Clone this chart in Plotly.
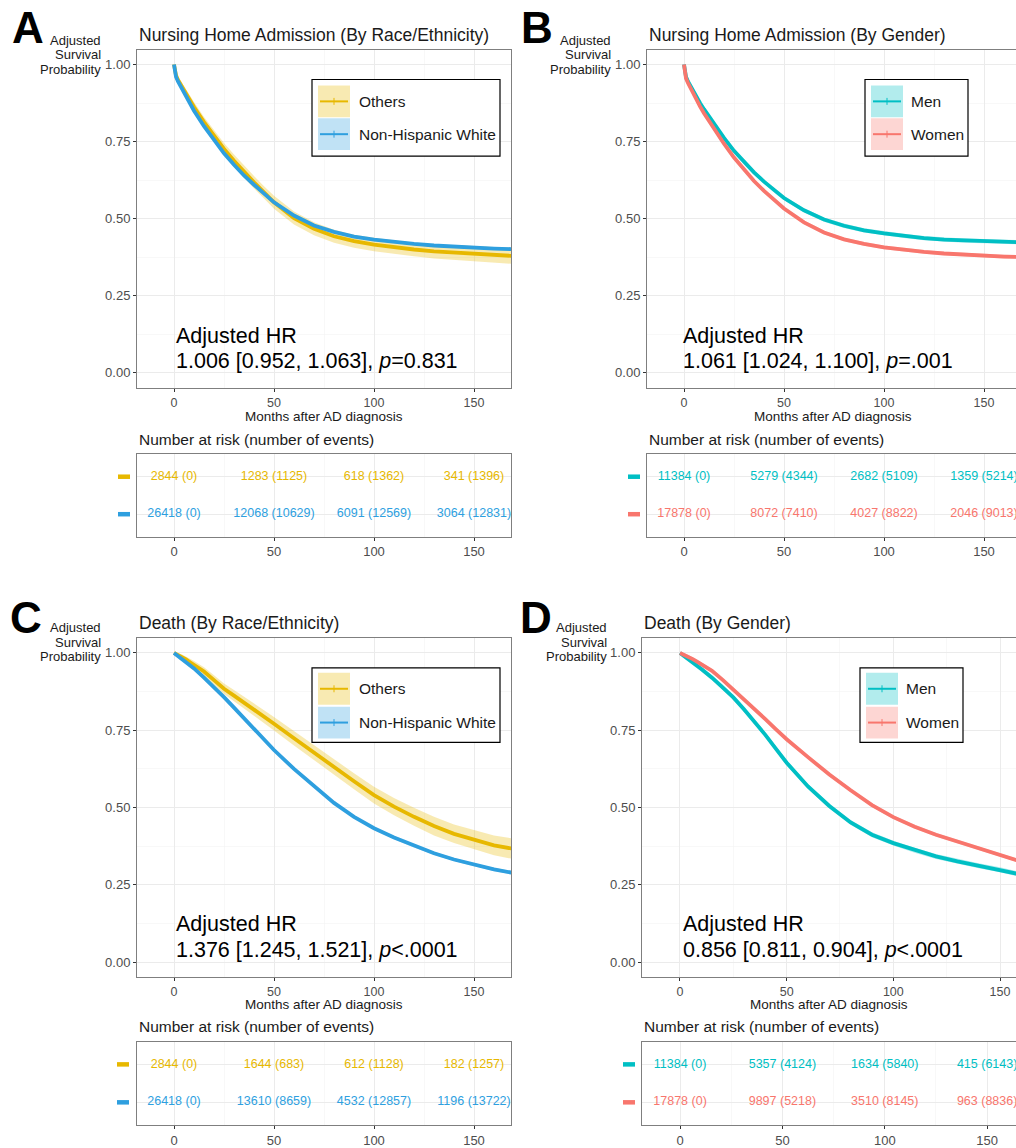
import plotly.graph_objects as go

W, H = 1016, 1148
FONT = "Liberation Sans, Arial, Helvetica, sans-serif"

# ---------------- data ----------------
months = [0, 1, 2, 4, 6, 8, 10, 15, 20, 25, 30, 35, 40, 45, 50, 60, 70, 80, 90,
          100, 110, 120, 130, 140, 150, 160, 170]

# A: Nursing home admission by race/ethnicity
a_others = [1.0, 0.965, 0.95, 0.928, 0.905, 0.882, 0.862, 0.813, 0.768, 0.726, 0.688, 0.652,
            0.618, 0.585, 0.553, 0.502, 0.467, 0.443, 0.427, 0.416, 0.407, 0.4, 0.394, 0.39,
            0.387, 0.383, 0.379]
a_others_hw = [0, 0.01, 0.012, 0.013, 0.014, 0.015, 0.016, 0.017, 0.018, 0.019, 0.02, 0.02,
               0.02, 0.02, 0.021, 0.021, 0.021, 0.021, 0.021, 0.022, 0.022, 0.022, 0.023,
               0.023, 0.024, 0.025, 0.026]
a_nhw = [1.0, 0.96, 0.945, 0.92, 0.895, 0.87, 0.85, 0.80, 0.755, 0.712, 0.675, 0.64, 0.61,
         0.58, 0.553, 0.51, 0.478, 0.457, 0.442, 0.432, 0.424, 0.418, 0.413, 0.409, 0.406,
         0.403, 0.401]
a_nhw_hw = [0] + [0.004] * 26

# B: Nursing home admission by gender
b_men = [1.0, 0.96, 0.945, 0.92, 0.897, 0.875, 0.855, 0.807, 0.762, 0.72, 0.683, 0.65, 0.62,
         0.592, 0.567, 0.527, 0.497, 0.477, 0.462, 0.452, 0.444, 0.437, 0.432, 0.429, 0.427,
         0.425, 0.423]
b_men_hw = [0] + [0.007] * 26
b_women = [1.0, 0.955, 0.94, 0.913, 0.888, 0.864, 0.842, 0.79, 0.743, 0.698, 0.658, 0.622,
           0.59, 0.56, 0.533, 0.488, 0.455, 0.433, 0.418, 0.407, 0.399, 0.392, 0.387, 0.383,
           0.38, 0.377, 0.375]
b_women_hw = [0] + [0.006] * 26

# C: Death by race/ethnicity
c_others = [1.0, 0.997, 0.994, 0.987, 0.979, 0.97, 0.962, 0.94, 0.912, 0.884, 0.862, 0.84,
            0.817, 0.794, 0.771, 0.724, 0.677, 0.63, 0.585, 0.54, 0.503, 0.47, 0.44, 0.415,
            0.396, 0.378, 0.366]
c_others_hw = [0, 0.004, 0.006, 0.008, 0.01, 0.011, 0.012, 0.014, 0.016, 0.017, 0.018, 0.019,
               0.02, 0.021, 0.022, 0.023, 0.024, 0.025, 0.026, 0.027, 0.028, 0.029, 0.03,
               0.03, 0.031, 0.032, 0.033]
c_nhw = [1.0, 0.995, 0.99, 0.98, 0.97, 0.96, 0.95, 0.92, 0.89, 0.857, 0.823, 0.789, 0.754,
         0.72, 0.686, 0.625, 0.57, 0.515, 0.47, 0.433, 0.403, 0.376, 0.352, 0.332, 0.315,
         0.3, 0.288]
c_nhw_hw = [0] + [0.005] * 26

# D: Death by gender
d_men = [1.0, 0.995, 0.99, 0.98, 0.97, 0.96, 0.948, 0.92, 0.89, 0.856, 0.818, 0.777, 0.735,
         0.69, 0.645, 0.568, 0.505, 0.452, 0.412, 0.385, 0.362, 0.342, 0.326, 0.312, 0.299,
         0.283, 0.275]
d_men_hw = [0] + [0.008] * 26
d_women = [1.0, 0.997, 0.994, 0.987, 0.98, 0.972, 0.964, 0.942, 0.913, 0.882, 0.85, 0.818,
           0.786, 0.753, 0.721, 0.663, 0.607, 0.556, 0.508, 0.469, 0.438, 0.412, 0.39, 0.37,
           0.347, 0.325, 0.313]
d_women_hw = [0] + [0.006] * 26

# Risk tables: number at risk and number of events at 0, 50, 100, 150 months
risk_months = [0, 50, 100, 150]
a_risk_others = [2844, 1283, 618, 341]
a_events_others = [0, 1125, 1362, 1396]
a_risk_nhw = [26418, 12068, 6091, 3064]
a_events_nhw = [0, 10629, 12569, 12831]
b_risk_men = [11384, 5279, 2682, 1359]
b_events_men = [0, 4344, 5109, 5214]
b_risk_women = [17878, 8072, 4027, 2046]
b_events_women = [0, 7410, 8822, 9013]
c_risk_others = [2844, 1644, 612, 182]
c_events_others = [0, 683, 1128, 1257]
c_risk_nhw = [26418, 13610, 4532, 1196]
c_events_nhw = [0, 8659, 12857, 13722]
d_risk_men = [11384, 5357, 1634, 415]
d_events_men = [0, 4124, 5840, 6143]
d_risk_women = [17878, 9897, 3510, 963]
d_events_women = [0, 5218, 8145, 8836]

x_ticks = [0, 50, 100, 150]
y_ticks = [0, 0.25, 0.5, 0.75, 1.0]
y_ticktext = ["0.00", "0.25", "0.50", "0.75", "1.00"]

GOLD, BLUE, TEAL, RED = "#E7B800", "#2E9FDF", "#00BFC4", "#F8766D"
FILL = {GOLD: "rgba(231,184,0,0.30)", BLUE: "rgba(46,159,223,0.30)",
        TEAL: "rgba(0,191,196,0.30)", RED: "rgba(248,118,109,0.30)"}


def px(x):
    return x / W


def py(y):
    return 1 - y / H


panels = [
    dict(letter="A", lx=28, ly=28, ytl_x=103, ytl_y=55,
         title="Nursing Home Admission (By Race/Ethnicity)",
         x0=137, x1=511, top=50, bottom=390, xr=[-18.5, 168.5], txr=[-18.5, 168.5], mirror=True,
         hr=("Adjusted HR", "1.006 [0.952, 1.063], <i>p</i>=0.831"), hr_x=174, hr_y=(338, 363),
         xlab_x=324, xlab_y=419, rt_y=442, tb_top=457, tb_bottom=540, dash_x=(118, 130),
         series=[("Others", GOLD, a_others, a_others_hw, a_risk_others, a_events_others),
                 ("Non-Hispanic White", BLUE, a_nhw, a_nhw_hw, a_risk_nhw, a_events_nhw)],
         leg=dict(x0=312, x1=500, y0=80, y1=157, sx0=318, sx1=350, rows=(102, 135), tx=357)),
    dict(letter="B", lx=537, ly=28, ytl_x=613, ytl_y=55,
         title="Nursing Home Admission (By Gender)",
         x0=647, x1=1016, top=50, bottom=390, xr=[-18.5, 166.0], txr=[-18.5, 166.0], mirror=False,
         hr=("Adjusted HR", "1.061 [1.024, 1.100], <i>p</i>=.001"), hr_x=681, hr_y=(338, 363),
         xlab_x=833, xlab_y=419, rt_y=442, tb_top=457, tb_bottom=540, dash_x=(628, 640),
         series=[("Men", TEAL, b_men, b_men_hw, b_risk_men, b_events_men),
                 ("Women", RED, b_women, b_women_hw, b_risk_women, b_events_women)],
         leg=dict(x0=865, x1=968, y0=80, y1=157, sx0=871, sx1=903, rows=(102, 135), tx=909)),
    dict(letter="C", lx=26, ly=621, ytl_x=103, ytl_y=646,
         title="Death (By Race/Ethnicity)",
         x0=137, x1=511, top=642, bottom=983, xr=[-18.5, 168.5], txr=[-18.5, 168.5], mirror=True,
         hr=("Adjusted HR", "1.376 [1.245, 1.521], <i>p</i>&lt;.0001"), hr_x=174, hr_y=(930, 956),
         xlab_x=324, xlab_y=1011, rt_y=1033, tb_top=1048, tb_bottom=1132, dash_x=(117, 129),
         series=[("Others", GOLD, c_others, c_others_hw, c_risk_others, c_events_others),
                 ("Non-Hispanic White", BLUE, c_nhw, c_nhw_hw, c_risk_nhw, c_events_nhw)],
         leg=dict(x0=312, x1=500, y0=672, y1=747, sx0=318, sx1=350, rows=(693, 727), tx=357)),
    dict(letter="D", lx=536, ly=621, ytl_x=609, ytl_y=646,
         title="Death (By Gender)",
         x0=642, x1=1016, top=642, bottom=983, xr=[-17.8, 157.5], txr=[-18.6, 164.1], mirror=False,
         hr=("Adjusted HR", "0.856 [0.811, 0.904], <i>p</i>&lt;.0001"), hr_x=681, hr_y=(930, 956),
         xlab_x=829, xlab_y=1011, rt_y=1033, tb_top=1048, tb_bottom=1132, dash_x=(623, 635),
         series=[("Men", TEAL, d_men, d_men_hw, d_risk_men, d_events_men),
                 ("Women", RED, d_women, d_women_hw, d_risk_women, d_events_women)],
         leg=dict(x0=860, x1=963, y0=672, y1=747, sx0=866, sx1=898, rows=(693, 727), tx=904)),
]

fig = go.Figure()
layout = dict(width=W, height=H, margin=dict(l=0, r=0, t=0, b=0),
              paper_bgcolor="white", plot_bgcolor="white", showlegend=False,
              font=dict(family=FONT, color="#000000"))
annotations = []
shapes = []

GRID = "#EBEBEB"
MINOR = "#F3F3F3"
FRAME = "#7F7F7F"
TICKC = "#4D4D4D"

for i, p in enumerate(panels):
    m = 2 * i + 1
    t = 2 * i + 2
    xm, ym = f"x{m}", f"y{m}"
    xt, yt = f"x{t}", f"y{t}"

    # ---- main axes ----
    layout[f"xaxis{m}"] = dict(
        domain=[px(p["x0"]), px(p["x1"])], range=p["xr"], anchor=ym,
        tickmode="array", tickvals=x_ticks, ticks="outside", ticklen=3, tickcolor="#333333",
        tickfont=dict(size=12.5, color=TICKC, family=FONT),
        showgrid=True, gridcolor=GRID, gridwidth=1,
        minor=dict(tickmode="array", tickvals=[25, 75, 125], showgrid=True,
                   gridcolor=MINOR, gridwidth=0.6, ticks=""),
        showline=True, linecolor=FRAME, linewidth=1, mirror=True, zeroline=False)
    layout[f"yaxis{m}"] = dict(
        domain=[py(p["bottom"]), py(p["top"])], range=[-0.048, 1.048], anchor=xm,
        tickmode="array", tickvals=y_ticks, ticktext=y_ticktext, ticks="outside", ticklen=3,
        tickcolor="#333333", tickfont=dict(size=13, color=TICKC, family=FONT),
        showgrid=True, gridcolor=GRID, gridwidth=1,
        minor=dict(tickmode="array", tickvals=[0.125, 0.375, 0.625, 0.875], showgrid=True,
                   gridcolor=MINOR, gridwidth=0.6, ticks=""),
        showline=True, linecolor=FRAME, linewidth=1, mirror=p["mirror"], zeroline=False)

    # ---- risk table axes ----
    layout[f"xaxis{t}"] = dict(
        domain=[px(p["x0"]), px(p["x1"])], range=p["txr"], anchor=yt,
        tickmode="array", tickvals=x_ticks, ticks="outside", ticklen=3, tickcolor="#333333",
        tickfont=dict(size=13, color=TICKC, family=FONT),
        showgrid=True, gridcolor=GRID, gridwidth=1,
        minor=dict(tickmode="array", tickvals=[25, 75, 125], showgrid=True,
                   gridcolor=MINOR, gridwidth=0.6, ticks=""),
        showline=True, linecolor=FRAME, linewidth=1, mirror=True, zeroline=False)
    layout[f"yaxis{t}"] = dict(
        domain=[py(p["tb_bottom"]), py(p["tb_top"])], range=[-0.6, 1.6], anchor=xt,
        tickmode="array", tickvals=[0, 1], showticklabels=False, ticks="",
        showgrid=True, gridcolor=GRID, gridwidth=1,
        showline=True, linecolor=FRAME, linewidth=1, mirror=p["mirror"], zeroline=False)

    # ---- curves with confidence bands ----
    for name, col, est, hw, risk, ev in p["series"]:
        upper = [min(1.0, e + h) for e, h in zip(est, hw)]
        lower = [e - h for e, h in zip(est, hw)]
        fig.add_trace(go.Scatter(x=months, y=upper, mode="lines", line=dict(width=0),
                                 xaxis=xm, yaxis=ym, hoverinfo="skip"))
        fig.add_trace(go.Scatter(x=months, y=lower, mode="lines", line=dict(width=0),
                                 fill="tonexty", fillcolor=FILL[col],
                                 xaxis=xm, yaxis=ym, hoverinfo="skip"))
    for name, col, est, hw, risk, ev in p["series"]:
        fig.add_trace(go.Scatter(x=months, y=est, mode="lines", name=name,
                                 line=dict(color=col, width=3.8), xaxis=xm, yaxis=ym))

    # ---- risk table text ----
    row_y = [1, 0]
    for (name, col, est, hw, risk, ev), ry in zip(p["series"], row_y):
        fig.add_trace(go.Scatter(
            x=risk_months, y=[ry] * len(risk_months), mode="text",
            text=[f"{r} ({e})" for r, e in zip(risk, ev)],
            textfont=dict(size=12.5, color=col, family=FONT),
            textposition="middle center", cliponaxis=True,
            xaxis=xt, yaxis=yt, hoverinfo="skip"))

    # ---- annotations ----
    annotations.append(dict(text=f"<b>{p['letter']}</b>", x=px(p["lx"]), y=py(p["ly"]),
                            xref="paper", yref="paper", xanchor="center", yanchor="middle",
                            showarrow=False, font=dict(size=44, color="black", family=FONT)))
    for k, line in enumerate(["Adjusted", "Survival", "Probability"]):
        annotations.append(dict(text=line, x=px(p["ytl_x"]), y=py(p["ytl_y"] + (k - 1) * 14.5),
                                xref="paper", yref="paper", xanchor="right", yanchor="middle",
                                showarrow=False, font=dict(size=13, color="#1A1A1A", family=FONT)))
    annotations.append(dict(text=p["title"], x=px(p["x0"]), y=py(p["top"] - 15),
                            xref="paper", yref="paper", xanchor="left", yanchor="middle",
                            showarrow=False, font=dict(size=17.5, color="#1A1A1A", family=FONT)))
    annotations.append(dict(text=p["hr"][0], x=px(p["hr_x"]), y=py(p["hr_y"][0]),
                            xref="paper", yref="paper", xanchor="left", yanchor="middle",
                            showarrow=False, font=dict(size=21.5, color="black", family=FONT)))
    annotations.append(dict(text=p["hr"][1], x=px(p["hr_x"]), y=py(p["hr_y"][1]),
                            xref="paper", yref="paper", xanchor="left", yanchor="middle",
                            showarrow=False, font=dict(size=21.5, color="black", family=FONT)))
    annotations.append(dict(text="Months after AD diagnosis", x=px(p["xlab_x"]), y=py(p["xlab_y"]),
                            xref="paper", yref="paper", xanchor="center", yanchor="middle",
                            showarrow=False, font=dict(size=13.5, color="#1A1A1A", family=FONT)))
    annotations.append(dict(text="Number at risk (number of events)", x=px(p["x0"]), y=py(p["rt_y"]),
                            xref="paper", yref="paper", xanchor="left", yanchor="middle",
                            showarrow=False, font=dict(size=15.5, color="#1A1A1A", family=FONT)))

    # ---- coloured row labels of risk table ----
    tb_h = p["tb_bottom"] - p["tb_top"]
    for (name, col, *_), ry in zip(p["series"], row_y):
        ypix = p["tb_top"] + (1.6 - ry) / 2.2 * tb_h
        shapes.append(dict(type="line", xref="paper", yref="paper",
                           x0=px(p["dash_x"][0]), x1=px(p["dash_x"][1]),
                           y0=py(ypix), y1=py(ypix), line=dict(color=col, width=4.5)))

    # ---- legend box ----
    lg = p["leg"]
    shapes.append(dict(type="rect", xref="paper", yref="paper",
                       x0=px(lg["x0"]), x1=px(lg["x1"]), y0=py(lg["y1"]), y1=py(lg["y0"]),
                       line=dict(color="black", width=1.2), fillcolor="white", layer="above"))
    for (name, col, *_), ry in zip(p["series"], lg["rows"]):
        shapes.append(dict(type="rect", xref="paper", yref="paper",
                           x0=px(lg["sx0"]), x1=px(lg["sx1"]), y0=py(ry + 16), y1=py(ry - 16),
                           line=dict(width=0), fillcolor=FILL[col], layer="above"))
        shapes.append(dict(type="line", xref="paper", yref="paper",
                           x0=px(lg["sx0"] + 2), x1=px(lg["sx1"] - 2), y0=py(ry), y1=py(ry),
                           line=dict(color=col, width=2), layer="above"))
        cx = (lg["sx0"] + lg["sx1"]) / 2
        shapes.append(dict(type="line", xref="paper", yref="paper",
                           x0=px(cx), x1=px(cx), y0=py(ry - 3.5), y1=py(ry + 3.5),
                           line=dict(color=col, width=1), layer="above"))
        annotations.append(dict(text=name, x=px(lg["tx"]), y=py(ry), xref="paper", yref="paper",
                                xanchor="left", yanchor="middle", showarrow=False,
                                font=dict(size=15.5, color="#1A1A1A", family=FONT)))

layout["annotations"] = annotations
layout["shapes"] = shapes
fig.update_layout(**layout)
fig.write_html(
    "out.html",
    config={"displayModeBar": False, "staticPlot": True},
    post_script="document.body.style.margin='0px';document.body.style.padding='0px';"
                "document.documentElement.style.overflow='hidden';",
)
